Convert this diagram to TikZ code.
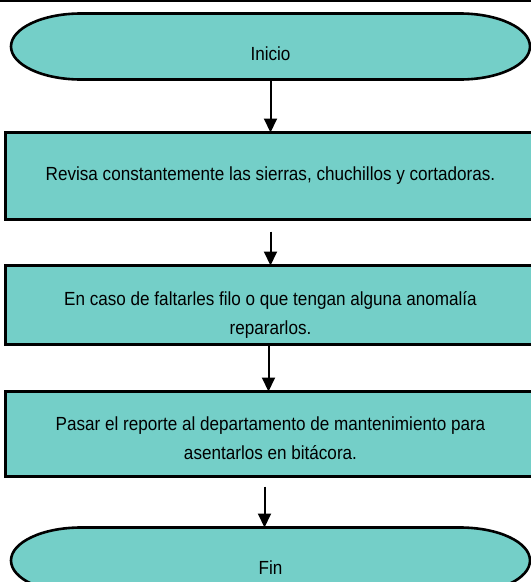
\documentclass[tikz,border=0pt]{standalone}
\usepackage{fontspec}
\setmainfont[FakeStretch=0.9]{Liberation Sans}
\usetikzlibrary{positioning,arrows.meta,backgrounds}
\definecolor{flowteal}{HTML}{74CFC8}
\newcommand{\pushdown}[1]{\rule{0pt}{#1}}
\newcommand{\termshape}[1]{%
  \filldraw[termline] ([xshift=70pt]#1.north west) -- ([xshift=-70pt]#1.north east)
    arc[start angle=90,end angle=-90,x radius=70pt,y radius=33pt]
    -- ([xshift=70pt]#1.south west)
    arc[start angle=270,end angle=90,x radius=70pt,y radius=33pt] -- cycle;}
\tikzset{
    every node/.style={font=\fontsize{19}{29}\selectfont},
    termnode/.style={minimum width=519pt,minimum height=66pt,inner sep=0pt,outer sep=0pt},
    termline/.style={draw=black,fill=flowteal,line width=2.6pt},
    procbox/.style={draw=black,fill=flowteal,line width=2.6pt,minimum width=530pt,inner sep=0pt,outer sep=0pt,align=center},
    flow/.style={-{Triangle[width=13pt,length=14pt]},line width=2pt}
}
\begin{document}
\begin{tikzpicture}[x=1pt,y=-1pt]
\useasboundingbox (0,0) rectangle (531,582);
\draw[line width=1.5pt] (0,0.75) -- (531,0.75);
\node[termnode] (inicio) at (270.5,46.5) {\pushdown{29pt}Inicio};
\node[procbox,minimum height=87pt,below=53pt of inicio] (revisa) {Revisa constantemente las sierras, chuchillos y cortadoras.};
\node[procbox,minimum height=79pt,below=46pt of revisa] (reparar) {\pushdown{34pt}En caso de faltarles filo o que tengan alguna anomalía\\ repararlos.};
\node[procbox,minimum height=85pt,below=47pt of reparar] (reporte) {\pushdown{22pt}Pasar el reporte al departamento de mantenimiento para\\ asentarlos en bitácora.};
\node[termnode,below=51pt of reporte] (fin) {\pushdown{28pt}Fin};
\begin{scope}[on background layer]
\termshape{inicio}
\termshape{fin}
\end{scope}
\draw[flow] (inicio.south) -- (revisa.north);
\draw[flow,shorten <=12pt] (revisa.south) -- (reparar.north);
\draw[flow,transform canvas={xshift=-2pt}] (reparar.south) -- (reporte.north);
\draw[flow,shorten <=10pt,transform canvas={xshift=-6pt}] (reporte.south) -- (fin.north);
\end{tikzpicture}
\end{document}
